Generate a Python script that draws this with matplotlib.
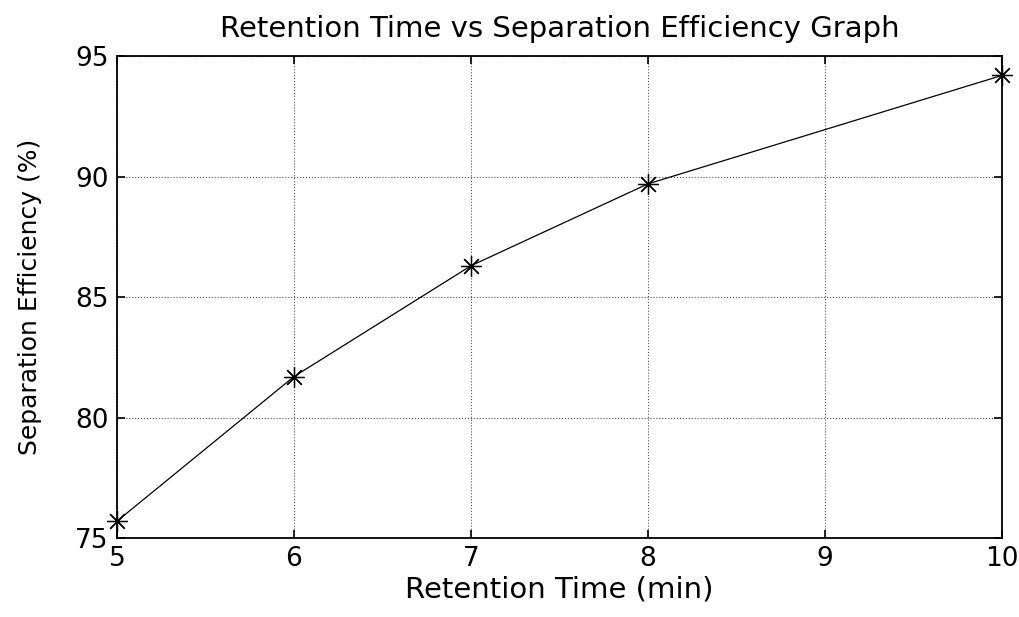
import matplotlib
matplotlib.use("Agg")
import matplotlib.pyplot as plt

# Retention time (min) and measured separation efficiency (%)
retention_time = [5, 6, 7, 8, 10]
efficiency = [75.7, 81.7, 86.3, 89.7, 94.2]

x_ticks = [5, 6, 7, 8, 9, 10]
y_ticks = [75, 80, 85, 90, 95]

plt.rcParams['font.family'] = ['DejaVu Sans']

fig = plt.figure(figsize=(10.19, 6.17), dpi=100)
ax = fig.add_axes([0.1148, 0.128, 0.8685, 0.781])

ax.plot(retention_time, efficiency, color='black', linewidth=0.9,
        marker=(8, 2, 0), markersize=15, markeredgewidth=0.9,
        markerfacecolor='black', markeredgecolor='black', clip_on=False,
        zorder=3)

ax.set_xlim(5, 10)
ax.set_ylim(75, 95)
ax.set_xticks(x_ticks)
ax.set_yticks(y_ticks)
ax.grid(True, linestyle=':', color='#555555', linewidth=0.8)
ax.tick_params(direction='in', top=True, right=True, length=6, width=1.2,
               labelsize=19, pad=6)
for s in ax.spines.values():
    s.set_linewidth(1.3)

ax.set_xlabel('Retention Time (min)', fontsize=21, labelpad=2)
ax.set_ylabel('Separation Efficiency (%)', fontsize=18, labelpad=24)
ax.set_title('Retention Time vs Separation Efficiency Graph', fontsize=21, pad=14)

fig.savefig('out.png', dpi=100)
